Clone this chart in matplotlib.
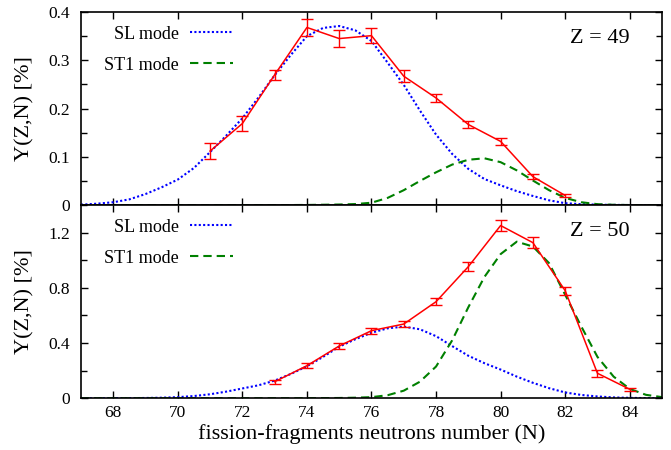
import numpy as np
import matplotlib
matplotlib.use('Agg')
import matplotlib.pyplot as plt
from matplotlib.ticker import MultipleLocator, FormatStrFormatter

plt.rcParams['font.family'] = 'Liberation Serif'

# model curves, sampled every half neutron
N_grid = [67, 67.5, 68, 68.5, 69, 69.5, 70, 70.5, 71, 71.5, 72, 72.5, 73, 73.5,
          74, 74.5, 75, 75.5, 76, 76.5, 77, 77.5, 78, 78.5, 79, 79.5, 80, 80.5,
          81, 81.5, 82, 82.5, 83, 83.5, 84, 84.5, 85]

sl_49 = [0.001, 0.003, 0.006, 0.012, 0.023, 0.037, 0.053, 0.077, 0.110, 0.144,
         0.180, 0.223, 0.269, 0.311, 0.350, 0.367, 0.371, 0.362, 0.340, 0.295,
         0.249, 0.196, 0.146, 0.106, 0.075, 0.054, 0.041, 0.029, 0.019, 0.010,
         0.004, 0.002, 0.001, 0.0005, 0.0002, 0.0001, 0.0]
st_49 = [0, 0, 0, 0, 0, 0, 0, 0, 0, 0, 0, 0, 0.0001, 0.0002,
         0.0004, 0.0008, 0.0013, 0.0022, 0.005, 0.015, 0.031, 0.050, 0.068, 0.084,
         0.094, 0.097, 0.089, 0.072, 0.051, 0.031, 0.015, 0.006, 0.002, 0.0007,
         0.0002, 0.0001, 0.0]

sl_50 = [0.0, 0.0003, 0.0006, 0.001, 0.002, 0.004, 0.008, 0.016, 0.029, 0.048,
         0.071, 0.094, 0.128, 0.176, 0.232, 0.300, 0.374, 0.428, 0.475, 0.507,
         0.519, 0.500, 0.450, 0.378, 0.308, 0.254, 0.208, 0.157, 0.112, 0.073,
         0.042, 0.024, 0.013, 0.006, 0.003, 0.001, 0.0005]
st_50 = [0, 0, 0, 0, 0, 0, 0, 0, 0, 0, 0, 0, 0, 0,
         0.0005, 0.001, 0.002, 0.004, 0.008, 0.022, 0.055, 0.120, 0.230, 0.420,
         0.660, 0.880, 1.045, 1.135, 1.100, 0.980, 0.750, 0.520, 0.300, 0.157,
         0.068, 0.025, 0.008]

# measured yields
N_49 = [71, 72, 73, 74, 75, 76, 77, 78, 79, 80, 81, 82]
y_49 = [0.112, 0.169, 0.270, 0.368, 0.345, 0.351, 0.267, 0.222, 0.167, 0.132, 0.059, 0.020]
e_49 = [0.016, 0.015, 0.010, 0.018, 0.017, 0.016, 0.012, 0.008, 0.008, 0.007, 0.005, 0.004]

N_50 = [73, 74, 75, 76, 77, 78, 79, 80, 81, 82, 83, 84]
y_50 = [0.120, 0.236, 0.379, 0.490, 0.538, 0.700, 0.954, 1.252, 1.128, 0.780, 0.181, 0.065]
e_50 = [0.015, 0.018, 0.020, 0.022, 0.022, 0.024, 0.032, 0.042, 0.038, 0.028, 0.026, 0.012]

panels = [
    (N_49, y_49, e_49, sl_49, st_49, 'Z = 49', 0.4, 0.1, 0.05),
    (N_50, y_50, e_50, sl_50, st_50, 'Z = 50', 1.4, 0.4, 0.2),
]

fig, axes = plt.subplots(2, 1, figsize=(6.71, 4.5), dpi=100, sharex=True)
fig.subplots_adjust(left=0.1207, right=0.9866, top=0.9733, bottom=0.115, hspace=0)

for ax, (N, y, e, sl, st, ztxt, ymax, maj, mnr) in zip(axes, panels):
    ax.plot(N_grid, sl, color='#0000ff', lw=1.5, ls=(0, (1, 1.1)), label='SL mode')
    ax.plot(N_grid, st, color='#008000', lw=1.5, ls=(0, (4, 2.4)), label='ST1 mode')
    ax.errorbar(N, y, yerr=e, color='#ff0000', lw=1.1, elinewidth=1.0,
                capsize=4, capthick=1.0)

    ax.set_xlim(67, 85)
    ax.set_ylim(0, ymax)
    ax.xaxis.set_major_locator(MultipleLocator(2))
    ax.yaxis.set_major_locator(MultipleLocator(maj))
    ax.yaxis.set_minor_locator(MultipleLocator(mnr))
    ax.yaxis.set_major_formatter(FormatStrFormatter('%g'))
    ax.tick_params(which='both', direction='in', top=True, right=True,
                   labelsize=12.5, width=1.0)
    ax.tick_params(which='major', length=5)
    ax.tick_params(which='minor', length=4.5)
    ax.tick_params(axis='x', pad=5)
    ax.tick_params(axis='y', pad=8)
    for sp in ax.spines.values():
        sp.set_linewidth(1.2)

    ax.set_ylabel('Y(Z,N) [%]', fontsize=16)
    ax.yaxis.set_label_coords(-0.080, 0.5)
    ax.text(0.945, 0.863, ztxt, transform=ax.transAxes, fontsize=16,
            ha='right', va='center')

    ax.legend(loc='upper left', bbox_to_anchor=(0.0396, 0.930), markerfirst=False,
              frameon=False, fontsize=13, handlelength=2.4, handletextpad=0.6,
              labelspacing=0.78, borderaxespad=0, borderpad=0)

axes[1].set_xlabel('fission-fragments neutrons number (N)', fontsize=16, labelpad=2)

plt.savefig('out.png', dpi=100)
